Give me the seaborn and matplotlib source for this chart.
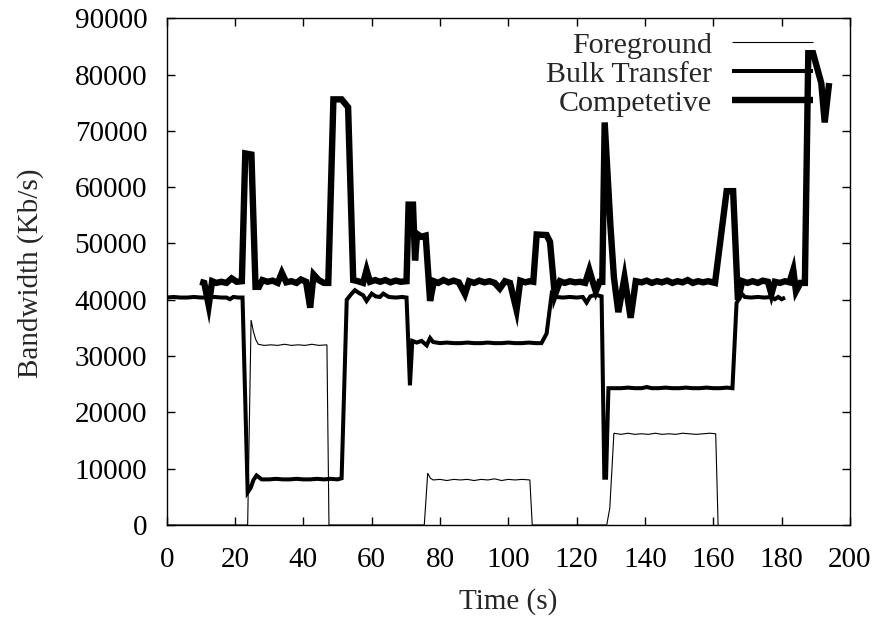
import matplotlib
matplotlib.use("Agg")
import matplotlib.pyplot as plt
import seaborn as sns

# ---------------- data ----------------
fg_time = [0, 23.7, 24.7, 25.4, 26.1, 26.8, 28.5, 30.5, 32.5, 34.5, 36.5, 38.5, 40.5, 42.5, 44.5, 46.9, 47.5,
           75.4, 76.4, 77.2, 78.0, 80, 82, 84, 86, 88, 90, 92, 94, 96, 98, 100, 102, 104, 106.3, 107.0,
           128.8, 129.7, 130.9, 133, 135, 137, 139, 141, 143, 145, 147, 149, 151, 153, 155, 157, 159, 160.7, 161.4]
fg_vals = [0, 0, 36400, 34300, 32900, 32100, 31900, 32000, 31900, 32100, 31900, 32000, 31900, 32100, 31900, 32000, 0,
           0, 9200, 8300, 8000, 8100, 7900, 8100, 8000, 8100, 7900, 8100, 8000, 8200, 7900, 8100, 8000, 8100, 8000, 0,
           0, 3000, 16300, 16100, 16300, 16100, 16200, 16100, 16300, 16100, 16200, 16100, 16300, 16200, 16100, 16200,
           16300, 16200, 0]

bulk_time = [0, 2, 4, 6, 8, 10, 12, 14, 16, 17.5, 18.5, 19.5, 21, 22.2, 23.7, 24.6, 25.4, 26.3, 27.8, 30, 32, 34,
             36, 38, 40, 42, 44, 46, 48, 50, 51.2, 52.7, 54, 55.1, 56.3, 57.5, 58.5, 60, 61.2, 62.4, 63.4, 65, 67,
             69, 70.2, 71.2, 71.9, 73.2, 74.6, 76.1, 77.1, 78.0, 80, 82, 84, 86, 88, 90, 92, 94, 96, 98, 100, 102,
             104, 106, 108, 109.7, 111.2, 112.7, 114, 116, 118, 120, 121.8, 122.9, 124, 125.5, 127.3, 128.1, 128.6,
             129.3, 131, 133, 135, 137, 139, 140.5, 142, 144, 146, 148, 150, 152, 154, 156, 158, 160, 162, 164,
             165.6, 166.8, 168.3, 169.2, 171, 173, 175, 177, 178, 179, 180, 181]
bulk_vals = [40400, 40500, 40400, 40400, 40500, 40400, 40400, 40500, 40400, 40400, 40100, 40500, 40400, 40400,
             5800, 6600, 8000, 8800, 8100, 8100, 8200, 8100, 8100, 8200, 8100, 8100, 8200, 8100, 8200, 8100, 8300,
             40000, 41000, 41700, 41200, 40800, 39800, 41100, 40600, 40500, 41100, 40500, 40400, 40500, 40400,
             24800, 32700, 32400, 32700, 31900, 33200, 32500, 32300, 32400, 32300, 32300, 32400, 32300, 32300,
             32400, 32300, 32300, 32400, 32300, 32300, 32400, 32300, 32300, 34000, 41100, 40500, 40400, 40500,
             40400, 40500, 39500, 40600, 40900, 40600, 8400, 8400, 24300, 24300, 24300, 24400, 24300, 24300,
             24500, 24300, 24300, 24400, 24300, 24300, 24400, 24300, 24300, 24400, 24300, 24300, 24400, 24300,
             39400, 41100, 40500, 40400, 40500, 40400, 40500, 40100, 40500, 40100, 40400]

comp_time = [9.8, 11, 12.3, 13.3, 14.5, 16, 17.5, 19, 20.5, 22, 23, 24.8, 26, 27, 28, 29.5, 31, 32.5, 33.7, 35,
             36.5, 38, 39.3, 40.8, 42, 43, 44.5, 46, 47.3, 48.8, 51.2, 53.1, 54.6, 56, 57.5, 58.5, 59.5, 61, 62.5,
             64, 65.5, 67, 68.5, 70.2, 70.8, 72.1, 72.7, 73.3, 74.5, 75.8, 77.1, 78.2, 79.5, 81, 82.5, 84, 85.5,
             87.3, 88.5, 90, 91.5, 93, 94.5, 96, 97.5, 99, 100.5, 102.4, 103.5, 105, 106.3, 107.3, 108.3, 111.2,
             112.2, 113.6, 115.1, 116.5, 118, 119.5, 121, 122.5, 123.7, 124.8, 125.6, 126.7, 127.5, 128.2, 129.9,
             130.9, 132.2, 134, 135.8, 137.3, 139, 140.5, 142, 143.5, 145, 146.5, 148, 149.5, 151, 152.5, 154,
             155.5, 157, 158.5, 160.5, 163.9, 165.8, 167.2, 168.5, 170, 171.5, 173, 174.5, 176, 177, 178, 179.5,
             181, 182.3, 183.4, 184.2, 185.5, 186.8, 187.8, 189.2, 191.6, 192.6, 193.9]
comp_vals = [43200, 43000, 39000, 43300, 43000, 43200, 43000, 43800, 43200, 43300, 66000, 65800, 42300, 42300,
             43500, 43200, 43400, 43000, 44800, 43100, 43300, 43000, 43600, 43200, 38600, 44500, 43500, 43000,
             43000, 75600, 75600, 74200, 43500, 43300, 43000, 45300, 43200, 43500, 43200, 43500, 43100, 43400,
             43200, 43300, 56900, 56900, 47000, 51700, 51200, 51400, 39800, 43300, 43000, 43500, 43100, 43400,
             43100, 41000, 43300, 43000, 43400, 43100, 43300, 43000, 42000, 43300, 43000, 38200, 43400, 43100,
             43300, 43200, 51600, 51500, 50300, 40800, 43300, 43000, 43300, 43100, 43200, 43000, 45300, 43000,
             41500, 43200, 43200, 71500, 53000, 44000, 37800, 44000, 36800, 43300, 43100, 43400, 43000, 43300,
             43100, 43400, 43000, 43300, 43100, 43500, 43000, 43300, 43100, 43300, 43000, 59300, 59300, 40000,
             43300, 43000, 43300, 43000, 43400, 43200, 41000, 43200, 43000, 43300, 43100, 45300, 41500, 43000,
             43000, 83800, 83800, 78500, 71500, 78500]

assert len(fg_time) == len(fg_vals), (len(fg_time), len(fg_vals))
assert len(bulk_time) == len(bulk_vals), (len(bulk_time), len(bulk_vals))
assert len(comp_time) == len(comp_vals), (len(comp_time), len(comp_vals))

labels = ["Foreground", "Bulk Transfer", "Competetive"]
x_ticks = list(range(0, 201, 20))
y_ticks = list(range(0, 90001, 10000))

# ---------------- style ----------------
sns.set_theme(style="ticks")
plt.rcParams["font.family"] = ["Liberation Serif", "DejaVu Serif"]
FS = 21

fig = plt.figure(figsize=(8.75, 6.18), dpi=100)
ax = fig.add_axes([0.1905, 0.1505, 0.7809, 0.8199])

series = [(fg_time, fg_vals, 0.8), (bulk_time, bulk_vals, 2.9), (comp_time, comp_vals, 4.6)]
handles = []
for (t, v, lw), lab in zip(series, labels):
    sns.lineplot(x=t, y=v, ax=ax, color="black", linewidth=lw, estimator=None, sort=False)
    line = ax.lines[-1]
    line.set_solid_joinstyle("miter")
    line.set_solid_capstyle("butt")
    line.set_label(lab)
    handles.append(line)

ax.set_xlim(0, 200)
ax.set_ylim(0, 90000)
ax.set_xticks(x_ticks)
ax.set_yticks(y_ticks)
ax.set_xticklabels([str(v) for v in x_ticks])
ax.set_yticklabels([str(v) for v in y_ticks])
ax.tick_params(direction="in", length=6, width=1, top=True, right=True,
               labelsize=FS, colors="black", pad=14)
ax.tick_params(axis="x", pad=16)
for s in ax.spines.values():
    s.set_visible(True)
    s.set_linewidth(1.0)
    s.set_color("black")

ax.set_xlabel("Time (s)", fontsize=FS)
ax.set_ylabel("Bandwidth (Kb/s)", fontsize=FS)
ax.xaxis.set_label_coords(0.4995, -0.124)
ax.yaxis.set_label_coords(-0.18, 0.497)

leg = ax.legend(handles=handles, labels=labels, loc="upper right",
                bbox_to_anchor=(0.946, 0.973), frameon=False, markerfirst=False,
                fontsize=21.6, handlelength=2.7, handletextpad=0.67,
                labelspacing=0.06, borderpad=0, borderaxespad=0, alignment="right")

fig.savefig("out.png", dpi=100)
